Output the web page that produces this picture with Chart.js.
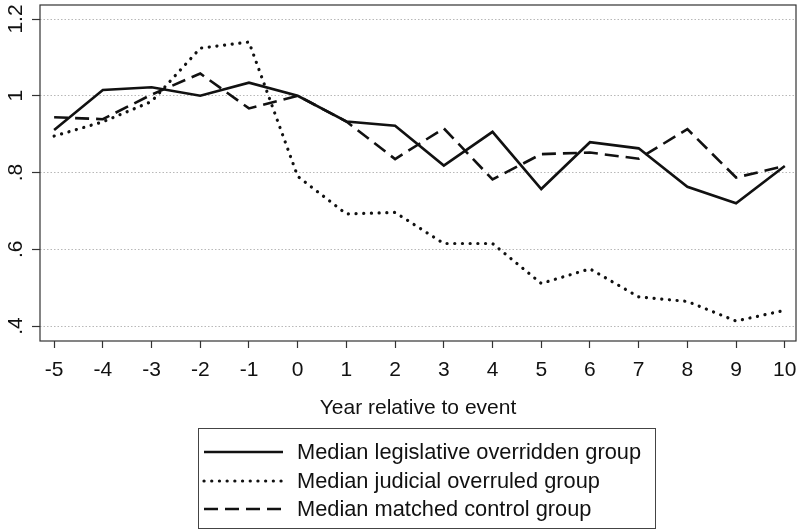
<!DOCTYPE html>
<html>
<head>
<meta charset="utf-8">
<script src="https://cdn.jsdelivr.net/npm/chart.js@4/dist/chart.umd.min.js"></script>
<style>
  html, body { margin: 0; padding: 0; background: #fff; }
  #wrap { width: 798px; height: 532px; }
</style>
</head>
<body>
<div id="wrap"><canvas id="c" width="798" height="532"></canvas></div>
<script>
const years = [-5, -4, -3, -2, -1, 0, 1, 2, 3, 4, 5, 6, 7, 8, 9, 10];
const legislative = [0.911, 1.015, 1.022, 1.000, 1.034, 1.000, 0.933, 0.922, 0.818, 0.906, 0.757, 0.879, 0.863, 0.763, 0.720, 0.817];
const judicial    = [0.895, 0.932, 0.985, 1.124, 1.140, 0.790, 0.692, 0.696, 0.615, 0.615, 0.511, 0.549, 0.476, 0.464, 0.413, 0.441];
const control     = [0.944, 0.939, 1.003, 1.058, 0.967, 1.000, 0.933, 0.835, 0.915, 0.782, 0.848, 0.852, 0.836, 0.913, 0.787, 0.817];
const seriesNames = ['Median legislative overridden group', 'Median judicial overruled group', 'Median matched control group'];
const xTickValues = [-5, -4, -3, -2, -1, 0, 1, 2, 3, 4, 5, 6, 7, 8, 9, 10];
const yTickValues = [0.4, 0.6, 0.8, 1.0, 1.2];
const yTickLabels = ['.4', '.6', '.8', '1', '1.2'];
const xTitle = 'Year relative to event';

const FONT = '"Liberation Sans", Arial, sans-serif';
const INK = '#111';

function pts(vals) { return years.map((x, i) => ({ x: x, y: vals[i] })); }

const styles = [
  { borderDash: [], borderWidth: 2.6, cap: 'butt' },
  { borderDash: [0.1, 7.6], borderWidth: 3.2, cap: 'round' },
  { borderDash: [14, 7], borderWidth: 2.6, cap: 'butt' }
];
const seriesData = [legislative, judicial, control];

const datasets = seriesData.map((vals, i) => ({
  label: seriesNames[i],
  data: pts(vals),
  borderColor: INK,
  borderWidth: styles[i].borderWidth,
  borderDash: styles[i].borderDash,
  borderCapStyle: styles[i].cap,
  borderJoinStyle: 'miter',
  pointRadius: 0,
  tension: 0,
  fill: false
}));

const framePlugin = {
  id: 'frame',
  afterDraw(chart) {
    const { ctx, chartArea: a } = chart;
    ctx.save();
    ctx.strokeStyle = '#333';
    ctx.lineWidth = 1.2;
    ctx.strokeRect(a.left, a.top, a.right - a.left, a.bottom - a.top);
    // y tick labels (rotated)
    const ys = chart.scales.y;
    ctx.fillStyle = INK;
    ctx.font = '21px ' + FONT;
    ctx.textAlign = 'center';
    ctx.textBaseline = 'middle';
    yTickValues.forEach((v, i) => {
      ctx.save();
      ctx.translate(16, ys.getPixelForValue(v));
      ctx.rotate(-Math.PI / 2);
      ctx.fillText(yTickLabels[i], 0, 0);
      ctx.restore();
    });
    // legend
    const lx = 198, ly = 428, lw = 457, lh = 100;
    ctx.strokeStyle = '#444';
    ctx.lineWidth = 1;
    ctx.strokeRect(lx + 0.5, ly + 0.5, lw, lh);
    const rows = [452, 481, 509];
    ctx.textAlign = 'left';
    ctx.font = '21.8px ' + FONT;
    seriesNames.forEach((name, i) => {
      ctx.save();
      ctx.strokeStyle = INK;
      ctx.lineWidth = styles[i].borderWidth;
      ctx.lineCap = styles[i].cap;
      ctx.setLineDash(styles[i].borderDash);
      ctx.beginPath();
      ctx.moveTo(204, rows[i]);
      ctx.lineTo(283, rows[i]);
      ctx.stroke();
      ctx.restore();
      ctx.fillStyle = INK;
      ctx.fillText(name, 297, rows[i] + 1);
    });
    ctx.restore();
  }
};

new Chart(document.getElementById('c'), {
  type: 'line',
  data: { datasets: datasets },
  plugins: [framePlugin],
  options: {
    responsive: false,
    animation: false,
    devicePixelRatio: 1,
    layout: { padding: { left: 0, right: 2, top: 5, bottom: 106 } },
    plugins: { legend: { display: false }, tooltip: { enabled: false } },
    scales: {
      x: {
        type: 'linear',
        min: -5.29,
        max: 10.23,
        afterBuildTicks(scale) { scale.ticks = xTickValues.map(v => ({ value: v })); },
        afterFit(scale) { scale.height = 85; scale.paddingLeft = 0; scale.paddingRight = 0; },
        ticks: {
          color: INK,
          font: { family: FONT, size: 21 },
          padding: 10,
          maxRotation: 0,
          minRotation: 0,
          autoSkip: false,
          callback: (v) => String(v)
        },
        grid: {
          drawOnChartArea: false,
          drawTicks: true,
          tickLength: 7,
          tickColor: '#333',
          tickWidth: 1.2
        },
        border: { display: false },
        title: {
          display: true,
          text: xTitle,
          color: INK,
          font: { family: FONT, size: 21 },
          padding: { top: 0, bottom: 5 }
        }
      },
      y: {
        type: 'linear',
        min: 0.361,
        max: 1.2365,
        afterBuildTicks(scale) { scale.ticks = yTickValues.map(v => ({ value: v })); },
        afterFit(scale) { scale.width = 40; },
        ticks: { display: false },
        grid: {
          drawOnChartArea: true,
          drawTicks: true,
          tickLength: 8,
          color: '#b8b8b8',
          lineWidth: 1,
          tickColor: '#333',
          tickWidth: 1.2,
          tickBorderDash: []
        },
        border: { display: false, dash: [1.5, 2] }
      }
    }
  }
});
</script>
</body>
</html>
